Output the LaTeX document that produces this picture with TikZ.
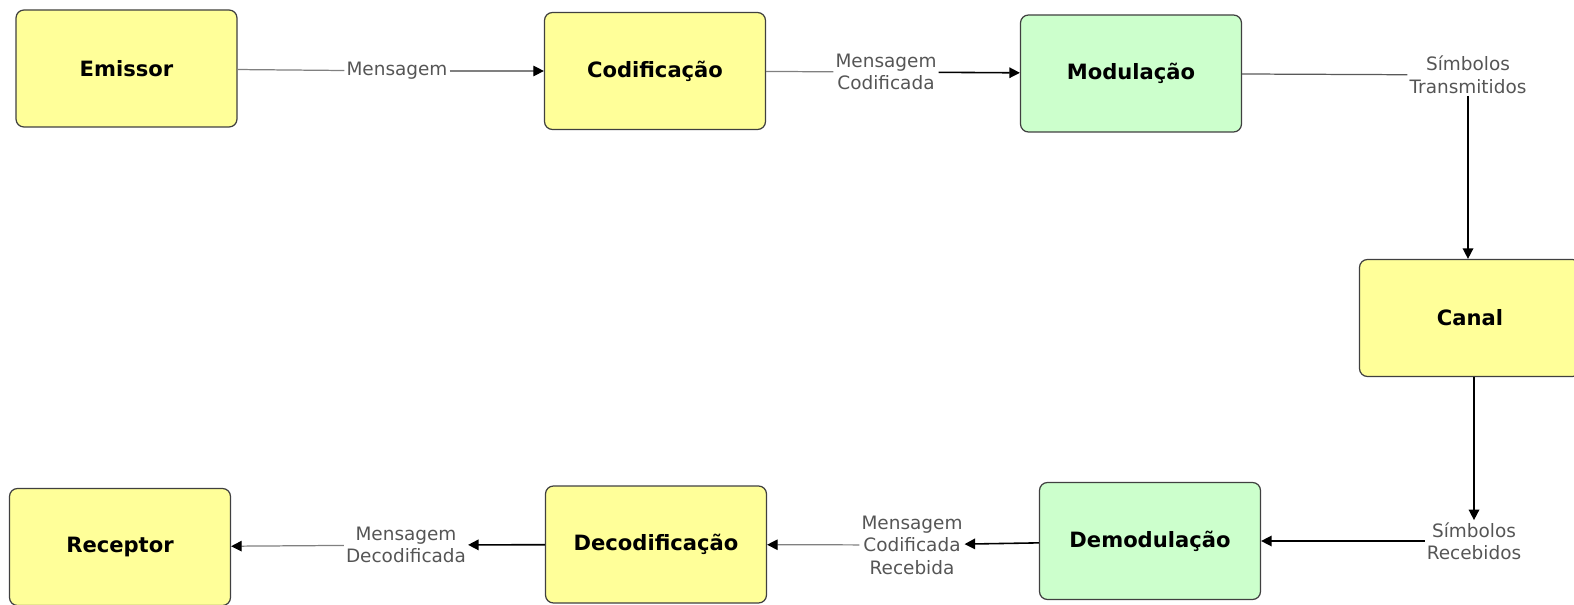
\documentclass[tikz,border=0pt]{standalone}
\usepackage{fontspec}
\setmainfont{DejaVu Sans}
\usetikzlibrary{arrows.meta}
\definecolor{boxyellow}{HTML}{FFFF99}
\definecolor{boxgreen}{HTML}{CCFFCC}
\definecolor{labelgray}{HTML}{555555}
\begin{document}
\begin{tikzpicture}[
        block/.style={draw=black!75, line width=0.7pt, fill=boxyellow, rounded corners=0.16cm,
            minimum width=4.42cm, minimum height=2.34cm,
            font=\fontsize{12}{14}\selectfont\bfseries},
        greenblock/.style={block, fill=boxgreen},
        lbl/.style={align=center, inner sep=1pt, text=labelgray,
            font=\fontsize{10.5}{12.8}\selectfont},
        faint/.style={draw=black!50, line width=0.7pt},
        strong/.style={draw=black, line width=0.9pt},
        tip/.style={-{Triangle[length=6pt,width=6pt,color=black]}}
    ]
        \clip (0,0) rectangle (31.48,-12.10);
        % blocos
        \node[block] (emissor) at (2.53,-1.37) {Emissor};
        \node[block] (codif) at (13.10,-1.42) {Codificação};
        \node[greenblock] (modul) at (22.62,-1.47) {Modulação};
        \node[block] (canal) at (29.40,-6.36) {Canal};
        \node[greenblock] (demod) at (23.00,-10.82) {Demodulação};
        \node[block] (decod) at (13.12,-10.89) {Decodificação};
        \node[block] (receptor) at (2.40,-10.94) {Receptor};
        % rotulos
        \node[lbl] (msg) at (7.94,-1.42) {Mensagem};
        \node[lbl] (msgcod) at (17.72,-1.44) {Mensagem\\Codificada};
        \node[lbl] (simtx) at (29.36,-1.50) {Símbolos\\Transmitidos};
        \node[lbl] (simrx) at (29.48,-10.82) {Símbolos\\Recebidos};
        \node[lbl] (msgcodrx) at (18.24,-10.90) {Mensagem\\Codificada\\Recebida};
        \node[lbl] (msgdec) at (8.12,-10.90) {Mensagem\\Decodificada};
        % ligacoes
        \draw[faint] (emissor) -- (msg);
        \draw[faint, tip] (msg) -- (codif);
        \draw[faint] (codif) -- (msgcod);
        \draw[strong, tip] (msgcod) -- (modul);
        \draw[faint, draw=black!65] (modul) -- (simtx);
        \draw[strong, tip] (simtx.south) -- (simtx.south |- canal.north);
        \draw[strong, tip] (canal.south -| simrx.north) -- (simrx.north);
        \draw[strong, tip] (simrx) -- (demod);
        \draw[strong, tip] (demod) -- (msgcodrx);
        \draw[faint, tip] (msgcodrx) -- (decod);
        \draw[strong, tip] (decod) -- (msgdec);
        \draw[faint, tip] (msgdec) -- (receptor);
    \end{tikzpicture}
\end{document}
